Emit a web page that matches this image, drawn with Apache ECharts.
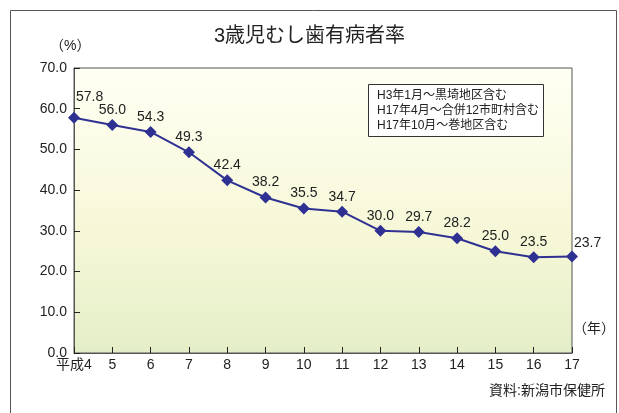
<!DOCTYPE html>
<html><head><meta charset="utf-8">
<script src="https://cdn.jsdelivr.net/npm/echarts@6/dist/echarts.min.js"></script>
<style>html,body{margin:0;padding:0;background:#fff}#c{width:619px;height:413px}</style>
</head><body><div id="c"></div>
<script>
const categories = ['平成4','5','6','7','8','9','10','11','12','13','14','15','16','17'];
const rates = [57.8, 56.0, 54.3, 49.3, 42.4, 38.2, 35.5, 34.7, 30.0, 29.7, 28.2, 25.0, 23.5, 23.7];
const yTicks = [0, 10, 20, 30, 40, 50, 60, 70];
const notes = ['H3年1月～黒埼地区含む', 'H17年4月～合併12市町村含む', 'H17年10月～巻地区含む'];
const FONT = '"Liberation Sans","Noto Sans CJK JP",sans-serif';
const chart = echarts.init(document.getElementById('c'));
const last = rates.length - 1;
const seriesData = rates.map((v, i) => {
  if (i === 0) return {value: v, label: {position: [8, -22]}};
  if (i === last) return {value: v, label: {position: [8, -14]}};
  return v;
});
chart.setOption({
  animation: false,
  title: {text: '3歳児むし歯有病者率', left: 'center', top: 21,
    textStyle: {fontFamily: FONT, fontSize: 20, fontWeight: 'normal', color: '#222'}},
  grid: {left: 74, right: 47, top: 68, bottom: 60, show: true, borderColor: '#555', borderWidth: 1,
    backgroundColor: new echarts.graphic.LinearGradient(0, 0, 0, 1, [
      {offset: 0, color: '#fffff4'}, {offset: 0.6, color: '#f6f7d6'}, {offset: 1, color: '#e3eec8'}])},
  xAxis: {type: 'category', data: categories, boundaryGap: false,
    axisLine: {lineStyle: {color: '#555'}},
    axisTick: {inside: true, length: 6, interval: 0, lineStyle: {color: '#222'}},
    axisLabel: {color: '#222', fontSize: 14, fontFamily: FONT, margin: 5, interval: 0}},
  yAxis: {type: 'value', min: yTicks[0], max: yTicks[yTicks.length - 1], interval: 10,
    splitLine: {show: false},
    axisLine: {show: true, lineStyle: {color: '#555'}},
    axisTick: {show: true, inside: true, length: 6, lineStyle: {color: '#222'}},
    axisLabel: {color: '#222', fontSize: 14, fontFamily: FONT, margin: 7,
      formatter: v => v.toFixed(1)}},
  series: [{type: 'line', data: seriesData, symbol: 'diamond', symbolSize: 12,
    lineStyle: {color: '#2e3192', width: 2}, itemStyle: {color: '#2e3192'},
    label: {show: true, position: 'top', distance: 2, color: '#222', fontSize: 14, fontFamily: FONT,
      formatter: p => p.value.toFixed(1)}}],
  graphic: [
    {type: 'rect', shape: {x: 10.5, y: 10.5, width: 606, height: 420}, style: {fill: 'none', stroke: '#555', lineWidth: 1}, z: 100},
    {type: 'text', left: 50, top: 39, style: {text: '（%）', fontSize: 14, fontFamily: FONT, fill: '#222'}},
    {type: 'text', left: 573, top: 322, style: {text: '（年）', fontSize: 14, fontFamily: FONT, fill: '#222'}},
    {type: 'text', right: 14, top: 384, style: {text: '資料:新潟市保健所', fontSize: 14, fontFamily: FONT, fill: '#222'}},
    {type: 'rect', shape: {x: 368.5, y: 84.5, width: 175, height: 52}, style: {fill: '#fff', stroke: '#333', lineWidth: 1}, z: 50},
    {type: 'text', left: 377, top: 88, z: 51, style: {text: notes.join('\n'), fontSize: 12, lineHeight: 15, fontFamily: FONT, fill: '#222'}}
  ]
});
</script></body></html>
